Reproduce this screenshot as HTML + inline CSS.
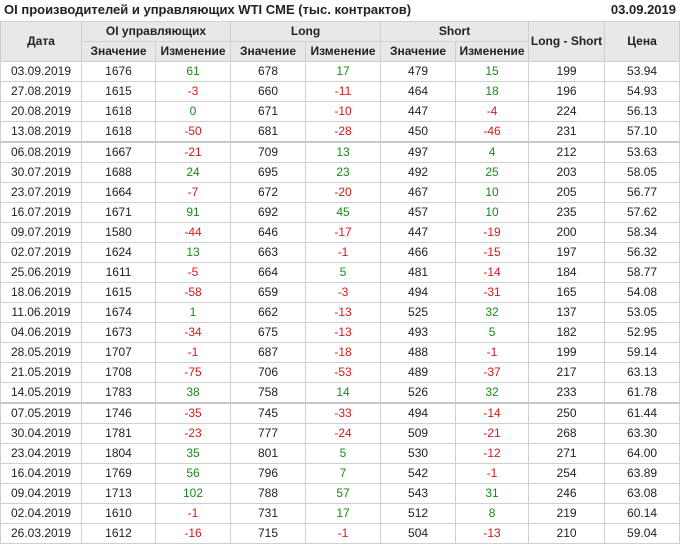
<!DOCTYPE html>
<html><head><meta charset="utf-8"><style>
body{margin:0;background:#fff;width:680px;height:548px;overflow:hidden;font-family:"Liberation Sans",Arial,sans-serif;color:#222}
.t{position:absolute;left:4px;top:2px;font-size:13px;font-weight:bold}
.d{position:absolute;right:4px;top:2px;font-size:13px;font-weight:bold}
table{position:absolute;left:0;top:21px;border-collapse:collapse;table-layout:fixed;width:679px;font-size:12px}
td,th{border:1px solid #d0d0d0;text-align:center;padding:0;line-height:19px}
th{background:#e8e8e8;font-weight:bold;line-height:19px}
.g{color:#1a8a1a}.r{color:#d41a1a}
tr.s td{border-top:2px solid #c8c8c8}
</style></head><body>
<div class="t">OI производителей и управляющих WTI CME (тыс. контрактов)</div>
<div class="d">03.09.2019</div>
<table>
<colgroup><col style="width:81px"><col style="width:74px"><col style="width:75px"><col style="width:75px"><col style="width:75px"><col style="width:75px"><col style="width:73px"><col style="width:76px"><col style="width:75px"></colgroup>
<tr><th rowspan="2">Дата</th><th colspan="2">OI управляющих</th><th colspan="2">Long</th><th colspan="2">Short</th><th rowspan="2">Long - Short</th><th rowspan="2">Цена</th></tr>
<tr><th>Значение</th><th>Изменение</th><th>Значение</th><th>Изменение</th><th>Значение</th><th>Изменение</th></tr>
<tr><td>03.09.2019</td><td>1676</td><td class="g">61</td><td>678</td><td class="g">17</td><td>479</td><td class="g">15</td><td>199</td><td>53.94</td></tr>
<tr><td>27.08.2019</td><td>1615</td><td class="r">-3</td><td>660</td><td class="r">-11</td><td>464</td><td class="g">18</td><td>196</td><td>54.93</td></tr>
<tr><td>20.08.2019</td><td>1618</td><td class="g">0</td><td>671</td><td class="r">-10</td><td>447</td><td class="r">-4</td><td>224</td><td>56.13</td></tr>
<tr><td>13.08.2019</td><td>1618</td><td class="r">-50</td><td>681</td><td class="r">-28</td><td>450</td><td class="r">-46</td><td>231</td><td>57.10</td></tr>
<tr class="s"><td>06.08.2019</td><td>1667</td><td class="r">-21</td><td>709</td><td class="g">13</td><td>497</td><td class="g">4</td><td>212</td><td>53.63</td></tr>
<tr><td>30.07.2019</td><td>1688</td><td class="g">24</td><td>695</td><td class="g">23</td><td>492</td><td class="g">25</td><td>203</td><td>58.05</td></tr>
<tr><td>23.07.2019</td><td>1664</td><td class="r">-7</td><td>672</td><td class="r">-20</td><td>467</td><td class="g">10</td><td>205</td><td>56.77</td></tr>
<tr><td>16.07.2019</td><td>1671</td><td class="g">91</td><td>692</td><td class="g">45</td><td>457</td><td class="g">10</td><td>235</td><td>57.62</td></tr>
<tr><td>09.07.2019</td><td>1580</td><td class="r">-44</td><td>646</td><td class="r">-17</td><td>447</td><td class="r">-19</td><td>200</td><td>58.34</td></tr>
<tr><td>02.07.2019</td><td>1624</td><td class="g">13</td><td>663</td><td class="r">-1</td><td>466</td><td class="r">-15</td><td>197</td><td>56.32</td></tr>
<tr><td>25.06.2019</td><td>1611</td><td class="r">-5</td><td>664</td><td class="g">5</td><td>481</td><td class="r">-14</td><td>184</td><td>58.77</td></tr>
<tr><td>18.06.2019</td><td>1615</td><td class="r">-58</td><td>659</td><td class="r">-3</td><td>494</td><td class="r">-31</td><td>165</td><td>54.08</td></tr>
<tr><td>11.06.2019</td><td>1674</td><td class="g">1</td><td>662</td><td class="r">-13</td><td>525</td><td class="g">32</td><td>137</td><td>53.05</td></tr>
<tr><td>04.06.2019</td><td>1673</td><td class="r">-34</td><td>675</td><td class="r">-13</td><td>493</td><td class="g">5</td><td>182</td><td>52.95</td></tr>
<tr><td>28.05.2019</td><td>1707</td><td class="r">-1</td><td>687</td><td class="r">-18</td><td>488</td><td class="r">-1</td><td>199</td><td>59.14</td></tr>
<tr><td>21.05.2019</td><td>1708</td><td class="r">-75</td><td>706</td><td class="r">-53</td><td>489</td><td class="r">-37</td><td>217</td><td>63.13</td></tr>
<tr><td>14.05.2019</td><td>1783</td><td class="g">38</td><td>758</td><td class="g">14</td><td>526</td><td class="g">32</td><td>233</td><td>61.78</td></tr>
<tr class="s"><td>07.05.2019</td><td>1746</td><td class="r">-35</td><td>745</td><td class="r">-33</td><td>494</td><td class="r">-14</td><td>250</td><td>61.44</td></tr>
<tr><td>30.04.2019</td><td>1781</td><td class="r">-23</td><td>777</td><td class="r">-24</td><td>509</td><td class="r">-21</td><td>268</td><td>63.30</td></tr>
<tr><td>23.04.2019</td><td>1804</td><td class="g">35</td><td>801</td><td class="g">5</td><td>530</td><td class="r">-12</td><td>271</td><td>64.00</td></tr>
<tr><td>16.04.2019</td><td>1769</td><td class="g">56</td><td>796</td><td class="g">7</td><td>542</td><td class="r">-1</td><td>254</td><td>63.89</td></tr>
<tr><td>09.04.2019</td><td>1713</td><td class="g">102</td><td>788</td><td class="g">57</td><td>543</td><td class="g">31</td><td>246</td><td>63.08</td></tr>
<tr><td>02.04.2019</td><td>1610</td><td class="r">-1</td><td>731</td><td class="g">17</td><td>512</td><td class="g">8</td><td>219</td><td>60.14</td></tr>
<tr><td>26.03.2019</td><td>1612</td><td class="r">-16</td><td>715</td><td class="r">-1</td><td>504</td><td class="r">-13</td><td>210</td><td>59.04</td></tr>
</table>
</body></html>
